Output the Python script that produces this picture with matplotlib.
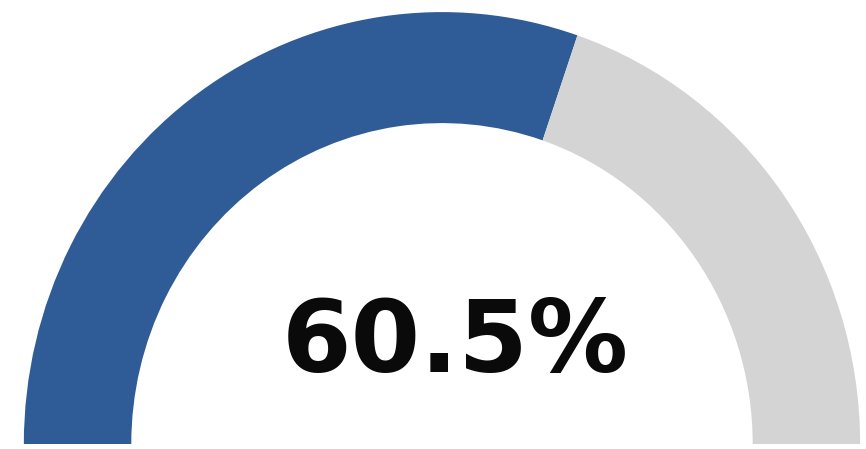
import matplotlib
matplotlib.use("Agg")
from matplotlib import pyplot as plt

# gauge data
value = 60.5
remaining = 100 - value
label = "60.5%"

fig = plt.figure(figsize=(8.66, 4.49), dpi=100)
ax = fig.add_axes([0, 0, 1, 1])

# bottom half of the pie is hidden so only the upper arc shows
wedges, _ = ax.pie([value, remaining, 100], startangle=180, counterclock=False,
                   colors=["#2F5C96", "#D4D4D4", "none"], radius=1.0,
                   wedgeprops=dict(width=0.257, edgecolor="none"))
ax.set_aspect("auto")
ax.set_xlim(-1.057, 1.014)
ax.set_ylim(-0.0116, 1.028)
ax.axis("off")

ax.text(0.031, 0.167, label, ha="center", va="baseline", fontsize=72,
        fontweight="bold", color="#0A0A0A", family="DejaVu Sans")

fig.savefig("out.png", dpi=100, facecolor="white")
